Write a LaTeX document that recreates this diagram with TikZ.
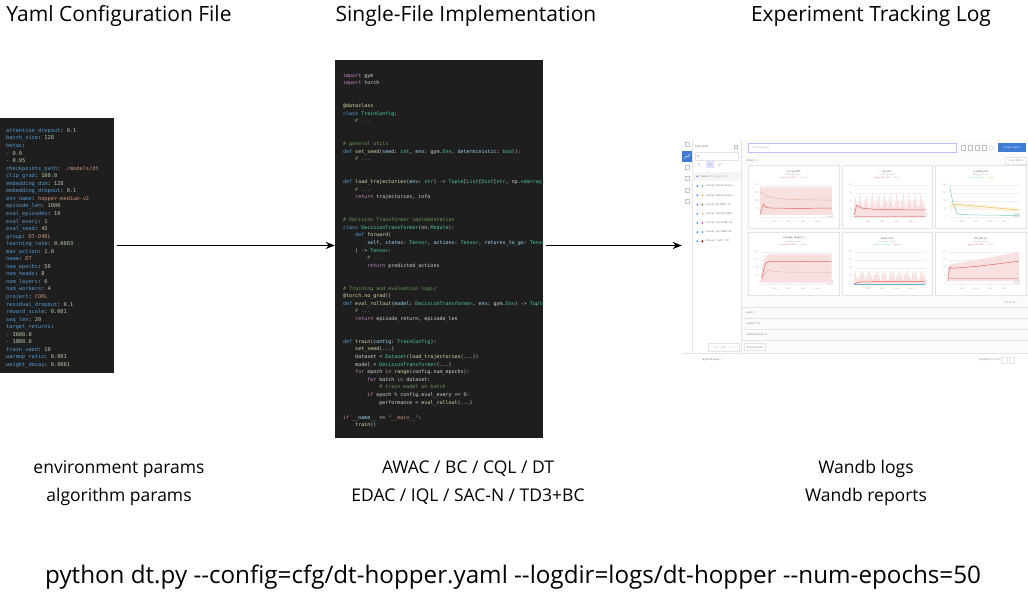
\documentclass[tikz,border=0pt]{standalone}
\usepackage{fontspec}
\setmainfont{Open Sans}
\setmonofont{DejaVu Sans Mono}
\usetikzlibrary{arrows.meta,positioning}

\definecolor{editorbg}{HTML}{1E1E1E}
\definecolor{colkey}{HTML}{569CD6}
\definecolor{colnum}{HTML}{B5CEA8}
\definecolor{colstr}{HTML}{CE9178}
\definecolor{colfunc}{HTML}{DCDCAA}
\definecolor{coltype}{HTML}{4EC9B0}
\definecolor{colparam}{HTML}{9CDCFE}
\definecolor{colflow}{HTML}{C586C0}
\definecolor{colcomm}{HTML}{6A9955}
\definecolor{coltext}{HTML}{D4D4D4}
\definecolor{wbblue}{HTML}{3E7BD4}
\definecolor{wbred}{HTML}{D9645F}
\definecolor{wbpink}{HTML}{F8E0E0}
\definecolor{wbteal}{HTML}{7FCDB8}
\definecolor{wbgold}{HTML}{E9BE55}
\definecolor{wbsky}{HTML}{62B8E3}
\definecolor{wbtext}{HTML}{8A8A8A}
\definecolor{wbline}{HTML}{E4E4E4}

\newcommand{\ykey}[1]{\textcolor{colkey}{#1}}
\newcommand{\ynum}[1]{\textcolor{colnum}{#1}}
\newcommand{\ystr}[1]{\textcolor{colstr}{#1}}
\newcommand{\ckwd}[1]{\textcolor{colkey}{#1}}
\newcommand{\cflow}[1]{\textcolor{colflow}{#1}}
\newcommand{\cfunc}[1]{\textcolor{colfunc}{#1}}
\newcommand{\ctype}[1]{\textcolor{coltype}{#1}}
\newcommand{\cparam}[1]{\textcolor{colparam}{#1}}
\newcommand{\ccomm}[1]{\textcolor{colcomm}{#1}}
\newcommand{\cstring}[1]{\textcolor{colstr}{#1}}
\newcommand{\cnumb}[1]{\textcolor{colnum}{#1}}

\begin{document}
\begin{tikzpicture}[x=1pt,y=-1pt,>={Stealth[length=9pt,width=7pt]},
  title/.style={inner sep=0pt,font=\fontsize{21}{25}\selectfont},
  caption/.style={inner sep=0pt,align=center,font=\fontsize{17.5}{28}\selectfont},
  panel/.style={fill=editorbg,inner sep=0pt},
  yamlline/.style={anchor=west,inner sep=0pt,text height=3.8pt,text depth=1pt,
    font=\ttfamily\fontsize{5.3}{6}\selectfont,text=coltext},
  codeline/.style={anchor=west,inner sep=0pt,text height=3.6pt,text depth=1pt,
    font=\ttfamily\fontsize{5}{6}\selectfont,text=coltext},
  wbtiny/.style={inner sep=0pt,font=\fontsize{2.6}{3}\selectfont,text=wbtext},
  wbmicro/.style={inner sep=0pt,font=\fontsize{2}{2.4}\selectfont,text=wbtext!80},
  card/.style={fill=white,draw=wbline,line width=0.4pt},
  flow/.style={->,line width=1.4pt,shorten <=3pt}]

\fill[white] (0,0) rectangle (1028,592);
\useasboundingbox (0,0) rectangle (1028,592);

% titles
\node[title] (t-yaml) at (119,16) {Yaml Configuration File};
\node[title] (t-code) at (466,16) {Single-File Implementation};
\node[title] (t-log) at (871,16) {Experiment Tracking Log};

% panels
\node[panel,minimum width=114pt,minimum height=255pt] (yaml) at (57,245.5) {};
\node[panel,minimum width=208pt,minimum height=378pt] (code) at (439,249) {};
\node[inner sep=0pt,minimum width=346pt,minimum height=222pt] (dash) at (855,251) {};

\draw[flow] (yaml.east) -- (yaml.east -| code.west);
\draw[flow] (code.east |- yaml.east) -- (dash.west |- yaml.east);

% yaml file
\foreach \txt [count=\n] in {
  {\ykey{attention\_dropout}: \ynum{0.1}},
  {\ykey{batch\_size}: \ynum{128}},
  {\ykey{betas}:},
  {- \ynum{0.9}},
  {- \ynum{0.95}},
  {\ykey{checkpoints\_path}: \ystr{./models/dt}},
  {\ykey{clip\_grad}: \ynum{100.0}},
  {\ykey{embedding\_dim}: \ynum{128}},
  {\ykey{embedding\_dropout}: \ynum{0.1}},
  {\ykey{env\_name}: \ystr{hopper-medium-v2}},
  {\ykey{episode\_len}: \ynum{1000}},
  {\ykey{eval\_episodes}: \ynum{10}},
  {\ykey{eval\_every}: \ynum{1}},
  {\ykey{eval\_seed}: \ynum{42}},
  {\ykey{group}: \ystr{DT-D4RL}},
  {\ykey{learning\_rate}: \ynum{0.0003}},
  {\ykey{max\_action}: \ynum{1.0}},
  {\ykey{name}: \ystr{DT}},
  {\ykey{num\_epochs}: \ynum{50}},
  {\ykey{num\_heads}: \ynum{8}},
  {\ykey{num\_layers}: \ynum{6}},
  {\ykey{num\_workers}: \ynum{4}},
  {\ykey{project}: \ystr{CORL}},
  {\ykey{residual\_dropout}: \ynum{0.1}},
  {\ykey{reward\_scale}: \ynum{0.001}},
  {\ykey{seq\_len}: \ynum{20}},
  {\ykey{target\_returns}:},
  {- \ynum{3600.0}},
  {- \ynum{1800.0}},
  {\ykey{train\_seed}: \ynum{10}},
  {\ykey{warmup\_ratio}: \ynum{0.001}},
  {\ykey{weight\_decay}: \ynum{0.0001}}}
  \node[yamlline] (yaml-\n) at (6,{131+7.55*(\n-1)}) {\txt};

% python file
\begin{scope}
\clip (code.south west) rectangle (code.north east);
\foreach \ind/\txt [count=\n] in {
  {0/{\cflow{import} gym}},
  {0/{\cflow{import} torch}},
  {0/{}}, {0/{}},
  {0/{\cfunc{@dataclass}}},
  {0/{\ckwd{class} \ctype{TrainConfig}:}},
  {4/{\ccomm{\# ...}}},
  {0/{}}, {0/{}},
  {0/{\ccomm{\# general utils}}},
  {0/{\ckwd{def} \cfunc{set\_seed}(\cparam{seed}: \ctype{int}, \cparam{env}: gym.\ctype{Env}, \cparam{deterministic}: \ctype{bool}):}},
  {4/{\ccomm{\# ...}}},
  {0/{}}, {0/{}},
  {0/{\ckwd{def} \cfunc{load\_trajectories}(\cparam{env}: \ctype{str}) -> \ctype{Tuple}[\ctype{List}[\ctype{Dict}[\ctype{str}, np.\ctype{ndarray}]], \ctype{Dict}[\ctype{str}, \ctype{Any}]]:}},
  {4/{\ccomm{\# ...}}},
  {4/{\cflow{return} trajectories, info}},
  {0/{}}, {0/{}},
  {0/{\ccomm{\# Decision Transformer implementation}}},
  {0/{\ckwd{class} \ctype{DecisionTransformer}(nn.\ctype{Module}):}},
  {4/{\ckwd{def} \cfunc{forward}(}},
  {8/{\cparam{self}, \cparam{states}: \ctype{Tensor}, \cparam{actions}: \ctype{Tensor}, \cparam{returns\_to\_go}: \ctype{Tensor}, \cparam{time\_steps}: \ctype{Tensor},}},
  {4/{) -> \ctype{Tensor}:}},
  {8/{\ccomm{\# ...}}},
  {8/{\cflow{return} predicted\_actions}},
  {0/{}}, {0/{}},
  {0/{\ccomm{\# Training and evaluation logic}}},
  {0/{\cfunc{@torch.no\_grad}()}},
  {0/{\ckwd{def} \cfunc{eval\_rollout}(\cparam{model}: \ctype{DecisionTransformer}, \cparam{env}: gym.\ctype{Env}) -> \ctype{Tuple}[\ctype{float}, \ctype{float}]:}},
  {4/{\ccomm{\# ...}}},
  {4/{\cflow{return} episode\_return, episode\_len}},
  {0/{}}, {0/{}},
  {0/{\ckwd{def} \cfunc{train}(\cparam{config}: \ctype{TrainConfig}):}},
  {4/{\cfunc{set\_seed}(...)}},
  {4/{dataset = \ctype{Dataset}(\cfunc{load\_trajectories}(...))}},
  {4/{model = \ctype{DecisionTransformer}(...)}},
  {4/{\cflow{for} epoch \cflow{in} \cfunc{range}(config.num\_epochs):}},
  {8/{\cflow{for} batch \cflow{in} dataset:}},
  {12/{\ccomm{\# train model on batch}}},
  {8/{\cflow{if} epoch \% config.eval\_every == \cnumb{0}:}},
  {12/{performance = \cfunc{eval\_rollout}(...)}},
  {0/{}},
  {0/{\cflow{if} \cparam{\_\_name\_\_} == \cstring{"\_\_main\_\_"}:}},
  {4/{\cfunc{train}()}}}
  \node[codeline] (code-\n) at ({343+3.01*\ind},{76+7.6*(\n-1)}) {\txt};
\end{scope}

% wandb dashboard
\begin{scope}[shift={(682,140)},xscale=1.018,yscale=1.1,shift={(-688,-143)}]
\fill[gray!3] (746,143) rectangle (1028,337);
\draw[wbline,line width=0.4pt] (698,143) -- (698,337) (746,143) -- (746,337) (688,337) -- (1028,337);
\foreach \iy in {147,168,178,189,199}
  \draw[gray!45,line width=0.3pt] (691,\iy-1.8) rectangle (695,\iy+1.8);
\fill[wbblue] (688,153) rectangle (698,163);
\draw[white,line width=0.4pt] (690.5,160) -- (692.5,157.5) -- (694,158.5) -- (696,155.5);

\node[wbtiny,anchor=west,text=black!60] (runs) at (701,149) {Runs (249)};
\draw[gray!50,line width=0.3pt] (739,147.5) rectangle (742,150.5);
\draw[wbline,line width=0.4pt] (701,154) rectangle (743,161);
\draw[gray!60,line width=0.3pt] (704,157.5) circle (1.1);
\fill[blue!12] (712,162.5) rectangle (719,168.5);
\foreach \ix in {705,715.5,725}
  \draw[gray!60,line width=0.3pt] (\ix-1,164.5) -- (\ix+1,164.5) -- (\ix,166.5) -- cycle;
\fill[gray!8] (698,172) rectangle (746,180);
\fill[wbblue] (703,176) circle (0.9);
\node[wbtiny,anchor=west,text=black!55] (runs-name) at (706,176) {Name \textcolor{wbtext!70}{(249 visualized)}};
\foreach \col/\grp [count=\n] in {
  wbteal/{Group: SAC-N-mujoco},
  wbgold/{Group: SAC-N-mujoco},
  gray/{Group: BC-D4RL \ 16},
  orange!50/{Group: TD3\_BC-D4RL},
  magenta!60/{Group: CQL-D4RL \ 36},
  wbsky/{Group: IQL-D4RL \ 36},
  red!75!black/{Group: <null> \ 160}}
{
  \fill[wbblue] (703,{185+8.35*(\n-1)}) circle (0.9);
  \fill[\col] (708,{185+8.35*(\n-1)}) circle (1.1);
  \node[wbtiny,anchor=west,text=black!55] (group-\n) at (710.5,{185+8.35*(\n-1)}) {› \grp};
}
\draw[wbline,line width=0.4pt] (714,328) rectangle (744,335);
\node[wbtiny] (pages) at (729,331.5) {1-7 \quad of 7 \quad < \ >};

\draw[blue!25,fill=white,line width=0.4pt] (753,146) rectangle (957,154);
\node[wbtiny,anchor=west,text=wbtext!70] (search) at (757,150) {Search panels};
\foreach \ix in {962,969,976,983}
  \draw[gray!50,line width=0.3pt] (\ix,148) rectangle (\ix+4,152);
\draw[gray!50,line width=0.3pt] (992,150) circle (2);
\fill[wbblue] (998,146) rectangle (1026,154);
\node[wbtiny,text=white] (report) at (1012,150) {Create report};
\node[wbtiny,anchor=west,text=black!55] (charts) at (750,161.5) {› Charts \ 6};
\draw[wbline,fill=white,line width=0.4pt] (1005,158.5) rectangle (1026,165);
\node[wbtiny] (addpanel) at (1015.5,161.75) {+ Add Panel};

\foreach \cx/\cy/\ttl/\ca/\cb [count=\n] in {
  753/166/q1\_q2\_diff/wbred/wbred!60,
  845/166/q2\_loss/wbred/wbred!60,
  937/166/q\_policy\_std/wbteal/wbgold,
  753/227/average\_target\_q/wbred/wbred!60,
  845/227/value\_loss/wbsky/wbred,
  937/227/std\_diff\_q1/wbred/wbred!60}
{
  \draw[card] (\cx,\cy) rectangle (\cx+89,\cy+57);
  \node[wbtiny,text=black!70] (chart-\n) at (\cx+44.5,\cy+5.5) {\ttl};
  \node[wbmicro] (chart-\n-sub) at (\cx+44.5,\cy+8.5) {Grouping: 4 runs};
  \node[wbmicro] (chart-\n-legend) at (\cx+44.5,\cy+11.5) {\textcolor{\ca}{-- group: CQL-D4RL} \quad \textcolor{\cb}{-- group: -}};
  \foreach \k/\lab in {0/0,1/50,2/100,3/150,4/200} {
    \draw[gray!12,line width=0.2pt] (\cx+12,{\cy+47-7.25*\k}) -- (\cx+84,{\cy+47-7.25*\k});
    \node[wbmicro,anchor=east] (chart-\n-y\k) at (\cx+10.5,{\cy+47-7.25*\k}) {\lab};
  }
  \foreach \lab [count=\k] in {200k,400k,600k,800k}
    \node[wbmicro] (chart-\n-x\k) at ({\cx+12+14*\k},\cy+51) {\lab};
  \node[wbmicro,draw=wbline,line width=0.2pt,inner sep=0.4pt,fill=white] (chart-\n-step) at (\cx+80,\cy+45) {Step};
}

\begin{scope}[shift={(765,213)},x=70pt,y=29pt]
  \fill[wbpink] (0,0.05) rectangle (1,0.95);
  \fill[wbpink!60!wbred!40] (0,0.2) -- (0,0.9) .. controls (0.1,0.6) .. (0.3,0.6) -- (1,0.58) -- (1,0.2) -- cycle;
  \draw[wbred!55,line width=0.4pt] plot[smooth] coordinates {(0,0.8) (0.1,0.65) (0.3,0.57) (0.6,0.54) (1,0.53)};
  \draw[wbred,line width=0.5pt] plot coordinates {(0,0.1) (0.04,0.4) (0.08,0.3) (0.15,0.28) (0.5,0.27) (1,0.28)};
\end{scope}
\begin{scope}[shift={(857,213)},x=70pt,y=29pt]
  \fill[wbpink] plot[domain=0:1,samples=90] (\x,{0.25+0.55*abs(sin(\x*5300)*cos(\x*2100))}) -- (1,0) -- (0,0) -- cycle;
  \draw[wbred!55,line width=0.4pt] (0,0.04) -- (1,0.04);
  \draw[wbred,line width=0.5pt] plot coordinates {(0,0.05) (0.04,0.38) (0.1,0.28) (0.3,0.24) (0.6,0.23) (1,0.22)};
\end{scope}
\begin{scope}[shift={(949,213)},x=70pt,y=29pt]
  \fill[wbgold!15] (0.05,0.25) -- (0.1,0.45) -- (1,0.28) -- (1,0.15) -- (0.1,0.3) -- cycle;
  \draw[wbteal,line width=0.5pt] plot[smooth] coordinates {(0.03,0.95) (0.07,0.5) (0.12,0.2) (0.2,0.08) (1,0.05)};
  \draw[wbgold,line width=0.5pt] plot[smooth] coordinates {(0.03,0.3) (0.08,0.4) (0.2,0.38) (0.5,0.32) (1,0.22)};
\end{scope}
\begin{scope}[shift={(765,274)},x=70pt,y=29pt]
  \fill[wbpink] (0,0.05) .. controls (0.05,0.9) .. (0.15,0.95) -- (1,0.95) -- (1,0.05) -- cycle;
  \draw[wbred,line width=0.5pt] plot[smooth] coordinates {(0.02,0.2) (0.06,0.55) (0.12,0.7) (0.5,0.71) (1,0.7)};
  \draw[wbred!55,line width=0.4pt] plot[smooth] coordinates {(0.02,0.1) (0.1,0.42) (0.3,0.38) (1,0.37)};
\end{scope}
\begin{scope}[shift={(857,274)},x=70pt,y=29pt]
  \fill[wbpink] plot[domain=0:1,samples=90] (\x,{0.1+0.4*abs(sin(\x*4700)*cos(\x*1700))}) -- (1,0) -- (0,0) -- cycle;
  \draw[wbsky,line width=0.4pt] (0,0.01) -- (1,0.01);
  \draw[wbred,line width=0.5pt] plot coordinates {(0,0.02) (0.1,0.07) (0.5,0.08) (1,0.09)};
\end{scope}
\begin{scope}[shift={(949,274)},x=70pt,y=29pt]
  \fill[wbpink] (0,0.1) -- (0,0.6) -- (1,1.0) -- (1,0.1) -- cycle;
  \draw[wbred!55,line width=0.4pt] (0.02,0.2) -- (1,0.2);
  \draw[wbred,line width=0.5pt] plot[smooth] coordinates {(0,0.1) (0.03,0.52) (0.08,0.5) (0.5,0.58) (1,0.72)};
\end{scope}

\node[wbtiny] (pagecount) at (1012,291) {1-6 of 12 \ ‹ \ ›};
\foreach \sy in {295,305,315,325}
  \draw[wbline,line width=0.3pt] (746,\sy) -- (1028,\sy);
\node[wbtiny,anchor=west,text=black!55] (sec-eval) at (750,300) {› eval \ 4};
\node[wbtiny,anchor=west,text=black!55] (sec-system) at (750,310) {› System \ 16};
\node[wbtiny,anchor=west,text=black!55] (sec-hidden) at (750,320) {› Hidden Panels \ 6};
\draw[wbline,fill=white,line width=0.4pt] (749,328) rectangle (770,334.5);
\node[wbtiny,text=black!55] (addsection) at (759.5,331.25) {Add a section};
\node[wbtiny,anchor=west,text=black!55] (workspace) at (708,343) {By Workspace \ 1};
\node[wbtiny] (updated) at (990,343) {Updated just now};
\draw[wbline,line width=0.4pt] (1002,340.5) rectangle (1007.5,345.5) (1009,340.5) rectangle (1014.5,345.5);
\end{scope}

% captions
\node[caption] (cap-yaml) at (119,483) {environment params\\algorithm params};
\node[caption] (cap-code) at (468,483) {AWAC / BC / CQL / DT\\EDAC / IQL / SAC-N / TD3+BC};
\node[caption] (cap-log) at (866,483) {Wandb logs\\Wandb reports};
\node[inner sep=0pt,font=\fontsize{24.2}{28}\selectfont] (command) at (513,577)
  {python dt.py -{}-config=cfg/dt-hopper.yaml -{}-logdir=logs/dt-hopper -{}-num-epochs=50};
\end{tikzpicture}
\end{document}
